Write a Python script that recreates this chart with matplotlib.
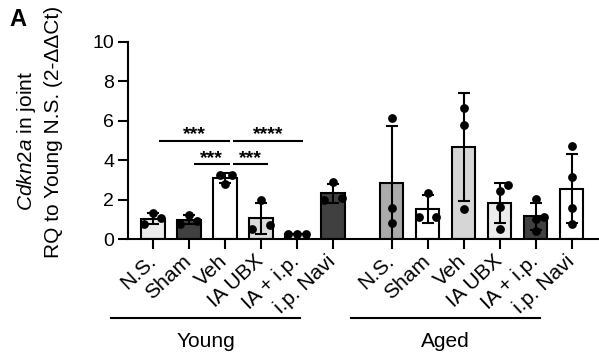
import numpy as np
import matplotlib
matplotlib.use("Agg")
import matplotlib.pyplot as plt
import matplotlib.transforms as mtransforms

plt.rcParams["font.family"] = ["Liberation Sans", "DejaVu Sans"]
plt.rcParams["mathtext.fontset"] = "custom"
plt.rcParams["mathtext.it"] = "Liberation Sans:italic"
plt.rcParams["mathtext.rm"] = "Liberation Sans"

labels = ["N.S.", "Sham", "Veh", "IA UBX", "IA + i.p.", "i.p. Navi"]

young_points = [
    [0.75, 1.30, 1.05],
    [0.76, 1.22, 0.93],
    [3.25, 2.80, 3.25],
    [0.52, 1.96, 0.69],
    [0.25, 0.25, 0.25],
    [1.98, 2.87, 2.10],
]
young_offsets = [
    [-1, 0, 1], [-1, 0, 1], [-0.6, 0, 0.8], [-1, 0, 1], [-1, 0, 1], [-1, 0, 1],
]
aged_points = [
    [6.13, 1.59, 0.81],
    [1.11, 2.33, 1.11],
    [6.64, 5.78, 1.54],
    [2.74, 2.43, 1.62, 0.49],
    [2.05, 1.13, 1.01, 0.42],
    [4.70, 3.13, 1.59, 0.74],
]
aged_offsets = [
    [0, 0, 0], [-1, 0, 1], [0, 0, 0], [1, 0, 0, 0], [0, 1, 0, 0], [0, 0, 0, 0],
]
young_colors = ["#ebebeb", "#404040", "#ffffff", "#dcdcdc", "#ebebeb", "#404040"]
aged_colors = ["#ababab", "#ffffff", "#d6d6d6", "#ececec", "#404040", "#ffffff"]

# significance lines: (x start, x end, y, label)
sig_lines = [
    (0.17, 2.14, 4.98, "***"),
    (2.22, 4.17, 4.98, "****"),
    (1.14, 2.14, 3.79, "***"),
    (2.22, 3.19, 3.79, "***"),
]

group_gap = 6.63
lw = 1.5


def main():
    fig = plt.figure(figsize=(5.99, 3.62), dpi=100)
    ax = fig.add_axes([128 / 599, 1 - 239 / 362, 1 - 128 / 599, (239 - 41.7) / 362])

    groups = [
        (np.arange(6), young_points, young_offsets, young_colors),
        (np.arange(6) + group_gap, aged_points, aged_offsets, aged_colors),
    ]
    all_x = []
    for xs, pts, offs, cols in groups:
        for x, p, o, c in zip(xs, pts, offs, cols):
            p = np.array(p)
            m = p.mean()
            sd = p.std(ddof=1)
            ax.bar(x, m, width=0.65, color=c, edgecolor="black", linewidth=lw, zorder=2)
            ax.errorbar(x, m, yerr=sd, color="black", elinewidth=lw, capsize=4.3,
                        capthick=lw, zorder=3)
            ax.scatter(x + np.array(o) * 0.24, p, s=40, color="black", zorder=4,
                       linewidths=0)
            all_x.append(x)

    ax.set_ylim(0, 10)
    ax.set_xlim(-0.69, 12.39)
    ax.set_yticks([0, 2, 4, 6, 8, 10])
    ax.set_xticks(all_x)
    ax.set_xticklabels(labels + labels, rotation=43, ha="right", va="center",
                       rotation_mode="anchor", fontsize=15)
    ax.tick_params(axis="both", width=lw, length=7)
    ax.tick_params(axis="y", labelsize=14, pad=3)
    ax.tick_params(axis="x", pad=7)
    for s in ["top", "right"]:
        ax.spines[s].set_visible(False)
    for s in ["left", "bottom"]:
        ax.spines[s].set_linewidth(lw)

    # two-line y label, placed by hand like the original
    fig.text(27 / 599, 1 - 141 / 362, "$\\it{Cdkn2a}$ in joint", rotation=90,
             ha="center", va="center", fontsize=15)
    fig.text(54 / 599, 1 - 132 / 362, "RQ to Young N.S. (2-ΔΔCt)", rotation=90,
             ha="center", va="center", fontsize=15)

    for x0, x1, y, txt in sig_lines:
        ax.plot([x0, x1], [y, y], color="black", lw=lw, solid_capstyle="butt")
        ax.text((x0 + x1) / 2, y + 0.08, txt, ha="center", va="baseline",
                fontsize=14, fontweight="bold")

    trans = mtransforms.blended_transform_factory(ax.transData, ax.transAxes)
    for x0, x1, name in [(-1.15, 4.08, "Young"), (5.5, 10.75, "Aged")]:
        ax.plot([x0, x1], [-0.402, -0.402], color="black", lw=lw,
                transform=trans, clip_on=False)
        ax.text((x0 + x1) / 2, -0.52, name, transform=trans, ha="center",
                va="center", fontsize=15)

    fig.text(9 / 599, 1 - 19 / 362, "A", fontsize=17, fontweight="bold",
             ha="left", va="center")

    fig.savefig("out.png", dpi=100)
    plt.close(fig)


if __name__ == "__main__":
    main()
